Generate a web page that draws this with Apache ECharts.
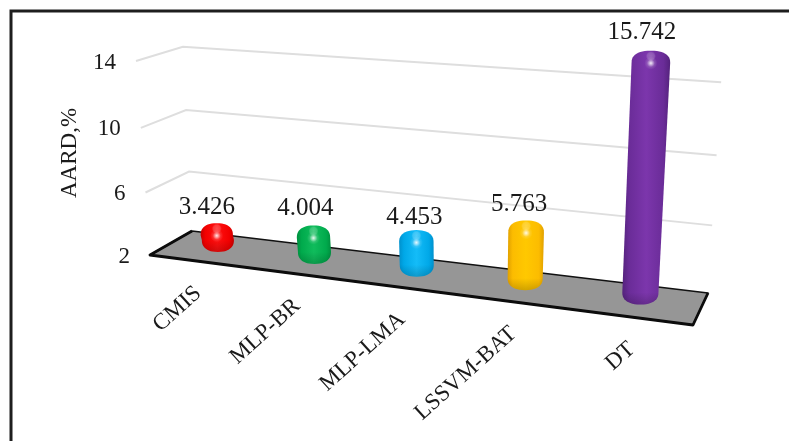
<!DOCTYPE html>
<html>
<head>
<meta charset="utf-8">
<script src="https://cdn.jsdelivr.net/npm/echarts@6/dist/echarts.min.js"></script>
<style>html,body{margin:0;padding:0;background:#fff}#chart{width:789px;height:441px}</style>
</head>
<body>
<div id="chart"></div>
<script>
// AARD of each model
const categories = ['CMIS', 'MLP-BR', 'MLP-LMA', 'LSSVM-BAT', 'DT'];
const aardValues = [3.426, 4.004, 4.453, 5.763, 15.742];
const tickValues = [2, 6, 10, 14];
const axisTitle = 'AARD,%';

// Body colours per bar: rim, side, centre
const barColors = [
  ['#c40000', '#f20000', '#ff1010'],
  ['#008f3f', '#00aa4c', '#10bc5c'],
  ['#0090cc', '#00a8e8', '#14bcf8'],
  ['#e0a000', '#fcbc00', '#ffc800'],
  ['#54227c', '#6a2c98', '#7c36ac']
];
// Hand placement of the value labels relative to each bar top
const labelShift = [[-10, -16], [-8, -17], [-2, -13], [-7, -16], [-9, -18]];

const FONT = '"Liberation Serif", "Times New Roman", serif';
const GRID = { left: 150, top: 61, width: 543, height: 194 };

// Perspective box: floor corners, then the vertical terms of the projection
const FL = [150, 255], FR = [693, 325], BR = [708, 293], BL = [192, 231];
const dx1 = FR[0] - BR[0], dx2 = BL[0] - BR[0], sx = FL[0] - FR[0] + BR[0] - BL[0];
const dy1 = FR[1] - BR[1], dy2 = BL[1] - BR[1], sy = FL[1] - FR[1] + BR[1] - BL[1];
const den = dx1 * dy2 - dx2 * dy1;
const wu = (sx * dy2 - dx2 * sy) / den;
const wd = (dx1 * sy - sx * dy1) / den;
const wh = -0.05;
const xh = -14 + 136 * wh;
const yh = -194 + 61 * wh;

function project(u, d, h) {
  const w = wu * u + wd * d + 1 + wh * h;
  return {
    x: ((FR[0] - FL[0] + wu * FR[0]) * u + (BL[0] - FL[0] + wd * BL[0]) * d + FL[0] + xh * h) / w + h * (2 * d - 5.7 * u),
    y: ((FR[1] - FL[1] + wu * FR[1]) * u + (BL[1] - FL[1] + wd * BL[1]) * d + FL[1] + yh * h) / w,
    w
  };
}

// Convert a data point to box coordinates through the chart's own axes
function toBox(api, params, catIndex, value) {
  const c = api.coord([catIndex, value]);
  const s = params.coordSys;
  return { u: (c[0] - s.x) / s.width, h: (s.y + s.height - c[1]) / s.height };
}

function arc(cx, cy, rx, ry, from, to, n, steps) {
  const pts = [];
  for (let i = 0; i <= steps; i++) {
    const t = from + (to - from) * i / steps;
    const co = Math.cos(t), si = Math.sin(t);
    pts.push([
      cx + rx * Math.sign(co) * Math.pow(Math.abs(co), 2 / n),
      cy + ry * Math.sign(si) * Math.pow(Math.abs(si), 2 / n)
    ]);
  }
  return pts;
}

function renderWalls(params, api) {
  const v = api.value(0);
  const h = toBox(api, params, 0, v).h;
  const a = project(0, 0, h), b = project(0, 1, h), c = project(1, 1, h);
  const children = [{
    type: 'text',
    style: { text: String(v), x: a.x - 20, y: a.y + 1.5, align: 'right', verticalAlign: 'middle', font: '23px ' + FONT, fill: '#1a1a1a' }
  }];
  if (v > tickValues[0]) {
    children.unshift({
      type: 'polyline',
      shape: { points: [[a.x, a.y], [b.x, b.y], [c.x, c.y]] },
      style: { stroke: '#dedede', lineWidth: 2, fill: 'none' }
    });
  }
  return { type: 'group', children };
}

function renderFloor() {
  const p = [project(0, 0, 0), project(1, 0, 0), project(1, 1, 0), project(0, 1, 0)].map(q => [q.x, q.y]);
  return {
    type: 'group',
    children: [
      { type: 'polygon', shape: { points: p }, style: { fill: '#969696', stroke: '#111', lineWidth: 1.6, lineJoin: 'round' } },
      { type: 'polyline', shape: { points: [p[3], p[0], p[1], p[2]] }, style: { stroke: '#0c0c0c', lineWidth: 2.8, fill: 'none', lineJoin: 'round' } }
    ]
  };
}

function renderBar(params, api) {
  const i = api.value(0);
  const box = toBox(api, params, i, api.value(1));
  const T = project(box.u, 0.5, box.h), B = project(box.u, 0.5, 0);
  const rT = 16.3 / T.w, rB = 16.3 / B.w;
  const k = 8.5, drop = 3.5, n = 2.35;
  const tc = T.y + k, bc = B.y - k, ry = k + drop;
  const outline = []
    .concat(arc(T.x, tc, rT, ry, Math.PI, 2 * Math.PI, n, 24))
    .concat(arc(B.x, bc, rB, ry, 0, Math.PI, n, 24));
  const col = barColors[i];
  const shift = labelShift[i];
  const lower = arc(B.x, bc, rB, ry, 0, Math.PI, n, 24);
  return {
    type: 'group',
    children: [
      {
        type: 'polygon', shape: { points: outline },
        style: { fill: new echarts.graphic.LinearGradient(0, 0, 1, 0, [
          { offset: 0, color: col[0] }, { offset: 0.14, color: col[1] },
          { offset: 0.5, color: col[2] }, { offset: 0.86, color: col[1] }, { offset: 1, color: col[0] }
        ]) }
      },
      {
        type: 'polygon', shape: { points: lower },
        style: { fill: new echarts.graphic.LinearGradient(0, 0, 0, 1, [
          { offset: 0, color: 'rgba(0,0,0,0)' }, { offset: 1, color: 'rgba(0,0,0,0.18)' }
        ]) }
      },
      {
        type: 'polygon', shape: { points: arc(T.x, T.y + 2, rT * 0.84, 5, 0, 2 * Math.PI, 2, 36) },
        style: { fill: new echarts.graphic.RadialGradient(0.5, 0.5, 0.5, [
          { offset: 0, color: 'rgba(255,255,255,0.26)' }, { offset: 0.7, color: 'rgba(255,255,255,0.18)' }, { offset: 1, color: 'rgba(255,255,255,0)' }
        ]) }
      },
      {
        type: 'polygon', shape: { points: arc(T.x, T.y + 9, 12, 6.5, 0, 2 * Math.PI, 2, 36) },
        style: { fill: new echarts.graphic.RadialGradient(0.5, 0.5, 0.5, [
          { offset: 0, color: 'rgba(255,255,255,0.9)' }, { offset: 0.25, color: 'rgba(255,255,255,0.6)' },
          { offset: 0.6, color: 'rgba(255,255,255,0.15)' }, { offset: 1, color: 'rgba(255,255,255,0)' }
        ]) }
      },
      {
        type: 'text',
        style: {
          text: api.value(1).toFixed(3), x: T.x + shift[0], y: T.y - drop + shift[1],
          align: 'center', verticalAlign: 'middle', font: '25px ' + FONT, fill: '#1a1a1a'
        }
      }
    ]
  };
}

function renderCategory(params, api) {
  const i = api.value(0);
  const u = toBox(api, params, i, tickValues[0]).u;
  const p = project(u, 0, 0);
  return {
    type: 'text',
    x: p.x + 1, y: p.y + 29, rotation: 42 * Math.PI / 180,
    style: { text: categories[i], x: 0, y: 0, align: 'right', verticalAlign: 'middle', font: '23px ' + FONT, fill: '#1a1a1a' }
  };
}

const common = { type: 'custom', coordinateSystem: 'cartesian2d', silent: true, clip: false, animation: false };

const chart = echarts.init(document.getElementById('chart'), null, { renderer: 'canvas' });
chart.setOption({
  animation: false,
  backgroundColor: '#fff',
  grid: GRID,
  xAxis: { type: 'category', data: categories, show: false },
  yAxis: { type: 'value', min: tickValues[0], max: tickValues[tickValues.length - 1], show: false },
  graphic: [
    { type: 'polyline', shape: { points: [[11, 441], [11, 11], [789, 11]] }, style: { stroke: '#1e1e1e', lineWidth: 3, fill: 'none' } },
    { type: 'text', x: 70, y: 153, rotation: Math.PI / 2, style: { text: axisTitle, align: 'center', verticalAlign: 'middle', font: '23px ' + FONT, fill: '#1a1a1a' } }
  ],
  series: [
    Object.assign({}, common, { z: 1, data: tickValues.map(v => [v]), encode: { y: 0 }, renderItem: renderWalls }),
    Object.assign({}, common, { z: 2, data: [[0]], renderItem: renderFloor }),
    Object.assign({}, common, { z: 3, data: aardValues.map((v, i) => [i, v]), encode: { x: 0, y: 1 }, renderItem: renderBar }),
    Object.assign({}, common, { z: 4, data: categories.map((c, i) => [i]), encode: { x: 0 }, renderItem: renderCategory })
  ]
});
</script>
</body>
</html>
